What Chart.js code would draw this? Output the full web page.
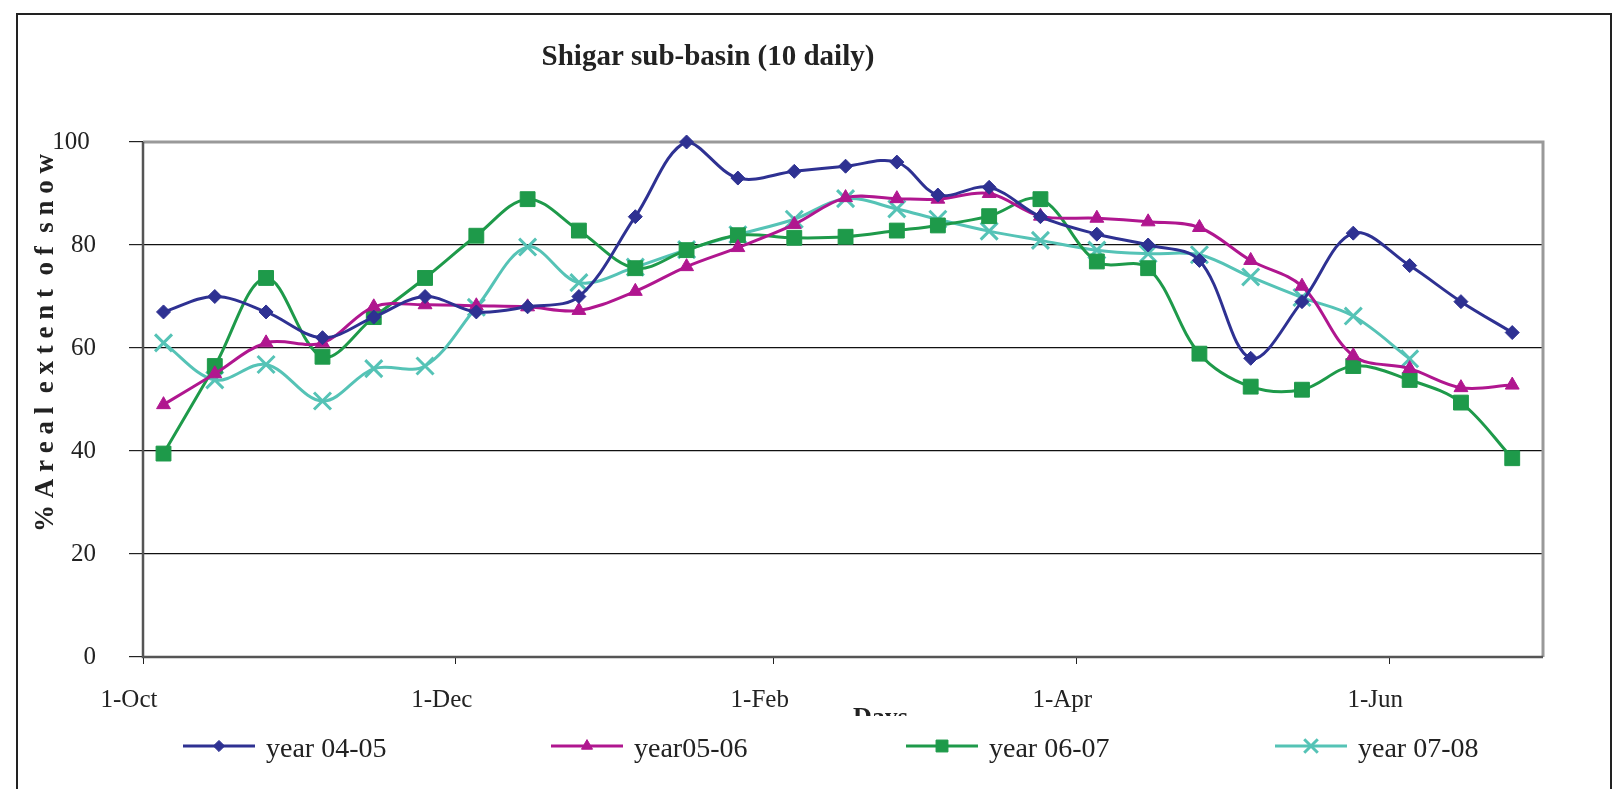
<!DOCTYPE html>
<html>
<head>
<meta charset="utf-8">
<script src="https://cdn.jsdelivr.net/npm/chart.js@4.4.1/dist/chart.umd.min.js"></script>
<style>
  body { margin: 0; background: #fff; }
  #wrap { position: relative; width: 1618px; height: 789px; }
  #frame { position: absolute; left: 16px; top: 13px; width: 1592px; height: 800px; border: 2px solid #222; pointer-events: none; }
</style>
</head>
<body>
<div id="wrap"><canvas id="snowChart"></canvas><div id="frame"></div></div>
<script>
// days after 1-Oct for each 10-daily value
const dayOffsets = [4, 14, 24, 35, 45, 55, 65, 75, 85, 96, 106, 116, 127, 137, 147, 155, 165, 175, 186, 196, 206, 216, 226, 236, 247, 257, 267];

const year0405 = [67, 70, 67, 62, 66, 70, 67, 68, 70, 85.5, 100, 93, 94.3, 95.3, 96.1, 89.7, 91.2, 85.5, 82.1, 80, 77, 58, 69, 82.3, 76, 69, 63];
const year0506 = [49, 55, 61, 61, 68, 68.4, 68.2, 68, 67.3, 71, 75.8, 79.5, 84, 89.2, 89, 88.9, 90, 85.6, 85.2, 84.5, 83.4, 77, 72, 58.5, 56, 52.3, 52.8];
const year0607 = [39.5, 56.5, 73.6, 58.3, 66, 73.6, 81.8, 88.9, 82.8, 75.5, 79, 81.9, 81.4, 81.6, 82.8, 83.8, 85.6, 88.9, 76.8, 75.5, 58.9, 52.5, 51.9, 56.5, 53.8, 49.4, 38.6];
const year0708 = [61, 53.8, 56.8, 49.7, 56, 56.5, 67.9, 79.6, 72.7, 75.7, 79.1, 82, 85, 89, 87, 85, 82.7, 80.9, 79, 78.3, 78.1, 73.8, 69.8, 66.2, 57.9];

const tickDays = [0, 61, 123, 182, 243];
const tickLabels = ['1-Oct', '1-Dec', '1-Feb', '1-Apr', '1-Jun'];
const yTicks = [0, 20, 40, 60, 80, 100];

const serif = '"Liberation Serif", "Times New Roman", serif';
const legendX = [183, 551, 906, 1275];

function points(vals) {
  return vals.map((v, i) => ({ x: dayOffsets[i], y: v }));
}

function series(label, vals, color, style, radius, bw) {
  return {
    label: label,
    data: points(vals),
    borderColor: color,
    backgroundColor: color,
    pointBackgroundColor: color,
    pointBorderColor: color,
    pointStyle: style,
    pointRadius: radius,
    pointHoverRadius: radius,
    pointBorderWidth: bw,
    borderWidth: 3,
    tension: 0.35,
    clip: false
  };
}

// gray frame round the plot area, under the lines
const plotFrame = {
  id: 'plotFrame',
  beforeDatasetsDraw(chart) {
    const a = chart.chartArea, ctx = chart.ctx;
    ctx.save();
    ctx.strokeStyle = '#999';
    ctx.lineWidth = 3;
    ctx.beginPath();
    ctx.moveTo(a.left, a.top);
    ctx.lineTo(a.right, a.top);
    ctx.lineTo(a.right, a.bottom);
    ctx.stroke();
    ctx.strokeStyle = '#555';
    ctx.lineWidth = 2.5;
    ctx.beginPath();
    ctx.moveTo(a.left, a.top);
    ctx.lineTo(a.left, a.bottom);
    ctx.lineTo(a.right, a.bottom);
    ctx.stroke();
    ctx.restore();
  }
};

const texts = {
  id: 'texts',
  afterDraw(chart) {
    const ctx = chart.ctx;
    ctx.save();
    ctx.fillStyle = '#222';
    ctx.font = 'bold 29px ' + serif;
    ctx.textAlign = 'center';
    ctx.textBaseline = 'alphabetic';
    ctx.fillText('Shigar sub-basin (10 daily)', 708, 65);

    // y axis title
    ctx.save();
    ctx.translate(53, 343);
    ctx.rotate(-Math.PI / 2);
    ctx.font = 'bold 27px ' + serif;
    ctx.fillText('% A r e a l  e x t e n t  o f  s n o w', 0, 0);
    ctx.restore();

    // x axis title, half hidden behind the legend
    ctx.save();
    ctx.beginPath();
    ctx.rect(700, 690, 300, 26);
    ctx.clip();
    ctx.font = 'bold 26px ' + serif;
    ctx.textAlign = 'left';
    ctx.fillText('Days', 853, 725);
    ctx.restore();

    // legend: line with marker in the middle
    chart.data.datasets.forEach((ds, i) => {
      const x0 = legendX[i], y = 746;
      ctx.strokeStyle = ds.borderColor;
      ctx.lineWidth = 3;
      ctx.beginPath();
      ctx.moveTo(x0, y);
      ctx.lineTo(x0 + 72, y);
      ctx.stroke();
      ctx.fillStyle = ds.pointBackgroundColor;
      ctx.strokeStyle = ds.pointBorderColor;
      ctx.lineWidth = ds.pointBorderWidth;
      Chart.helpers.drawPoint(ctx, {
        pointStyle: ds.pointStyle,
        radius: ds.pointRadius * 0.8,
        rotation: 0,
        borderWidth: ds.pointBorderWidth
      }, x0 + 36, y);
      ctx.fillStyle = '#222';
      ctx.font = '28px ' + serif;
      ctx.textAlign = 'left';
      ctx.fillText(ds.label, x0 + 83, 757);
    });
    ctx.restore();
  }
};

new Chart(document.getElementById('snowChart'), {
  type: 'line',
  data: {
    datasets: [
      series('year 04-05', year0405, '#2E3192', 'rectRot', 7, 1),
      series('year05-06', year0506, '#B0168F', 'triangle', 8, 1),
      series('year 06-07', year0607, '#1E9A4A', 'rect', 10.5, 1),
      series('year 07-08', year0708, '#55C3B6', 'crossRot', 12, 3)
    ]
  },
  options: {
    responsive: true,
    maintainAspectRatio: false,
    animation: false,
    events: [],
    layout: { padding: { left: 0, right: 75, top: 142, bottom: 0 } },
    plugins: {
      legend: { display: false },
      title: { display: false },
      tooltip: { enabled: false }
    },
    scales: {
      x: {
        type: 'linear',
        min: 0,
        max: 273,
        afterBuildTicks: (scale) => { scale.ticks = tickDays.map(v => ({ value: v })); },
        afterFit: (scale) => { scale.height = 132; },
        ticks: {
          callback: (v) => tickLabels[tickDays.indexOf(v)],
          font: { family: serif, size: 25 },
          color: '#222',
          padding: 21,
          labelOffset: -14,
          maxRotation: 0,
          autoSkip: false
        },
        grid: { drawOnChartArea: false, drawTicks: true, tickLength: 7, color: '#222' },
        border: { display: false }
      },
      y: {
        min: 0,
        max: 100,
        afterBuildTicks: (scale) => { scale.ticks = yTicks.map(v => ({ value: v })); },
        afterFit: (scale) => { scale.width = 143; },
        ticks: {
          callback: (v) => (v === 100 ? '100 ' : String(v)),
          font: { family: serif, size: 25 },
          color: '#222',
          padding: 33
        },
        grid: {
          color: (c) => (c.tick && (c.tick.value === 0 || c.tick.value === 100)) ? 'rgba(0,0,0,0)' : '#111',
          tickColor: '#222',
          lineWidth: 1.2,
          tickLength: 14
        },
        border: { display: false }
      }
    }
  },
  plugins: [plotFrame, texts]
});
</script>
</body>
</html>
